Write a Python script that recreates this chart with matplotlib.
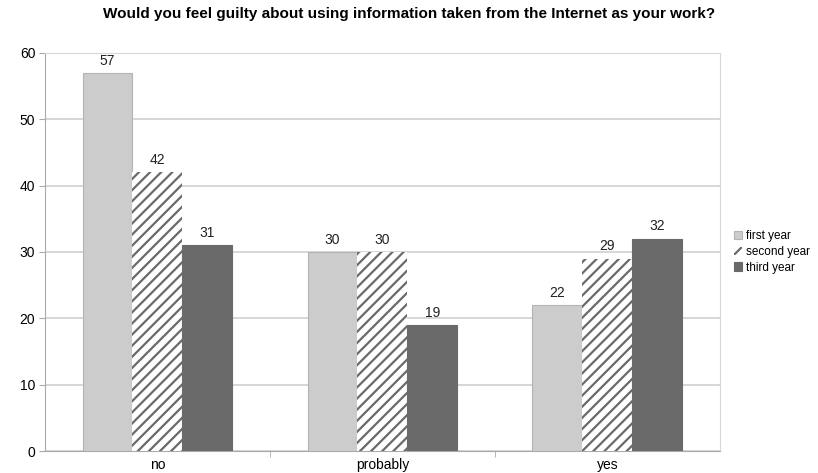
import numpy as np
import matplotlib.pyplot as plt

plt.rcParams['font.family'] = ['Liberation Sans', 'DejaVu Sans']
plt.rcParams['hatch.linewidth'] = 1.6
plt.rcParams['hatch.color'] = '#6a6a6a'

categories = ['no', 'probably', 'yes']
first_year = [57, 30, 22]
second_year = [42, 30, 29]
third_year = [31, 19, 32]
series_names = ['first year', 'second year', 'third year']

fig = plt.figure(figsize=(8.18, 4.73), dpi=100)
ax = fig.add_axes([0.055, 0.0465, 0.825, 0.8415])

x = np.arange(len(categories))
w = 0.222
styles = [
    dict(color='#cccccc', edgecolor='#b4b4b4', linewidth=0.8),
    dict(color='white', edgecolor='#6a6a6a', hatch='///', linewidth=0),
    dict(color='#6a6a6a', edgecolor='#6a6a6a', linewidth=0.8),
]
for i, (vals, name, st) in enumerate(zip([first_year, second_year, third_year], series_names, styles)):
    bars = ax.bar(x + (i - 1) * w, vals, w, label=name, zorder=3, **st)
    for b, v in zip(bars, vals):
        ax.text(b.get_x() + b.get_width() / 2, v + 0.8, str(v), ha='center', va='bottom',
                fontsize=10, color='#222222')

ax.set_xlim(-0.5, 2.5)
ax.set_ylim(0, 60)
ax.set_yticks(range(0, 61, 10))
ax.set_xticks(x)
ax.set_xticklabels(categories)
ax.set_xticks([0.5, 1.5], minor=True)
ax.tick_params(axis='x', which='major', length=0, pad=5, labelsize=10)
ax.tick_params(axis='x', which='minor', length=4, color='#aaaaaa')
ax.tick_params(axis='y', length=4, color='#aaaaaa', labelsize=10, pad=3)
ax.yaxis.grid(True, color='#d0d0d0', linewidth=1.2, zorder=0)
for side in ['top', 'right']:
    ax.spines[side].set_color('#d8d8d8')
for side in ['left', 'bottom']:
    ax.spines[side].set_color('#aaaaaa')

fig.suptitle('Would you feel guilty about using information taken from the Internet as your work?',
             x=0.5, y=0.985, fontsize=11, fontweight='bold')

ax.legend(loc='center left', bbox_to_anchor=(1.005, 0.5), frameon=False, fontsize=8.5,
          handlelength=0.7, handleheight=0.7, handletextpad=0.3, labelspacing=0.3)

fig.savefig('out.png', dpi=100)
